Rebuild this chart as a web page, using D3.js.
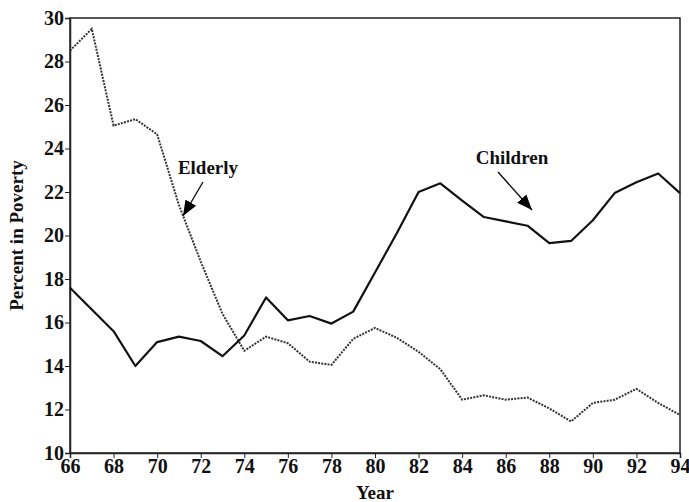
<!DOCTYPE html>
<html>
<head>
<meta charset="utf-8">
<script src="https://cdn.jsdelivr.net/npm/d3@7"></script>
<style>
  body { margin: 0; background: #fff; }
  svg text { font-family: "Liberation Serif", "DejaVu Serif", serif; font-weight: bold; }
  .tick text { font-size: 20px; fill: #111; }
  .tick line, .domain { stroke: #222; }
</style>
</head>
<body>
<svg id="chart" width="689" height="502"></svg>
<script>
const years = d3.range(66, 95);
const children = [17.6, 16.6, 15.6, 14.0, 15.1, 15.35, 15.15, 14.45, 15.4, 17.15, 16.1, 16.3, 15.95, 16.5, 18.3, 20.1,
  22.0, 22.4, 21.6, 20.85, 20.65, 20.45, 19.65, 19.75, 20.7, 21.95, 22.45, 22.85, 21.95];
const elderly = [28.5, 29.5, 25.05, 25.35, 24.65, 21.4, 18.8, 16.4, 14.7, 15.35, 15.05, 14.2, 14.05, 15.25, 15.75, 15.3,
  14.65, 13.85, 12.45, 12.65, 12.45, 12.55, 12.05, 11.45, 12.3, 12.45, 12.95, 12.3, 11.75];
const xTicks = d3.range(66, 95, 2);
const yTicks = d3.range(10, 31, 2);

const svg = d3.select('#chart');
const margin = { left: 70, right: 9, top: 18, bottom: 49 };
const width = 689 - margin.left - margin.right;
const height = 502 - margin.top - margin.bottom;

const x = d3.scaleLinear().domain([66, 94]).range([0, width]);
const y = d3.scaleLinear().domain([10, 30]).range([height, 0]);

const g = svg.append('g')
  .attr('transform', `translate(${margin.left},${margin.top})`);

// frame
g.append('rect')
  .attr('width', width)
  .attr('height', height)
  .attr('fill', 'none')
  .attr('stroke', '#222')
  .attr('stroke-width', 1.5);

g.append('g')
  .attr('transform', `translate(0,${height})`)
  .call(d3.axisBottom(x).tickValues(xTicks).tickSize(5).tickPadding(1).tickFormat(d3.format('d')))
  .call(s => s.select('.domain').attr('stroke-width', 1.5));

g.append('g')
  .call(d3.axisLeft(y).tickValues(yTicks).tickSize(5).tickPadding(1).tickFormat(d3.format('d')))
  .call(s => s.select('.domain').attr('stroke-width', 1.5));

const line = d3.line()
  .x((d, i) => x(years[i]))
  .y(d => y(d));

g.append('path')
  .datum(elderly)
  .attr('d', line)
  .attr('fill', 'none')
  .attr('stroke', '#333')
  .attr('stroke-width', 2)
  .attr('stroke-dasharray', '2,1.2');

g.append('path')
  .datum(children)
  .attr('d', line)
  .attr('fill', 'none')
  .attr('stroke', '#111')
  .attr('stroke-width', 2.2)
  .attr('stroke-linejoin', 'round');

// labels with arrows
svg.append('defs').append('marker')
  .attr('id', 'head')
  .attr('viewBox', '0 0 10 10')
  .attr('refX', 10).attr('refY', 5)
  .attr('markerWidth', 11).attr('markerHeight', 11)
  .attr('markerUnits', 'strokeWidth')
  .attr('orient', 'auto')
  .append('path')
  .attr('d', 'M0,1L10,5L0,9Z')
  .attr('fill', '#000');

const notes = [
  { text: 'Elderly', tx: 208, ty: 174, x1: 203, y1: 182, x2: 183, y2: 216 },
  { text: 'Children', tx: 512, ty: 164, x1: 498, y1: 172, x2: 532, y2: 210 }
];
notes.forEach(n => {
  svg.append('text')
    .attr('x', n.tx).attr('y', n.ty)
    .attr('text-anchor', 'middle')
    .attr('font-size', 19)
    .attr('fill', '#111')
    .text(n.text);
  svg.append('line')
    .attr('x1', n.x1).attr('y1', n.y1)
    .attr('x2', n.x2).attr('y2', n.y2)
    .attr('stroke', '#111')
    .attr('stroke-width', 1.4)
    .attr('marker-end', 'url(#head)');
});

svg.append('text')
  .attr('x', margin.left + width / 2)
  .attr('y', 499)
  .attr('text-anchor', 'middle')
  .attr('font-size', 19)
  .attr('fill', '#111')
  .text('Year');

svg.append('text')
  .attr('transform', `translate(23,${margin.top + height / 2}) rotate(-90)`)
  .attr('text-anchor', 'middle')
  .attr('font-size', 19)
  .attr('fill', '#111')
  .text('Percent in Poverty');
</script>
</body>
</html>
